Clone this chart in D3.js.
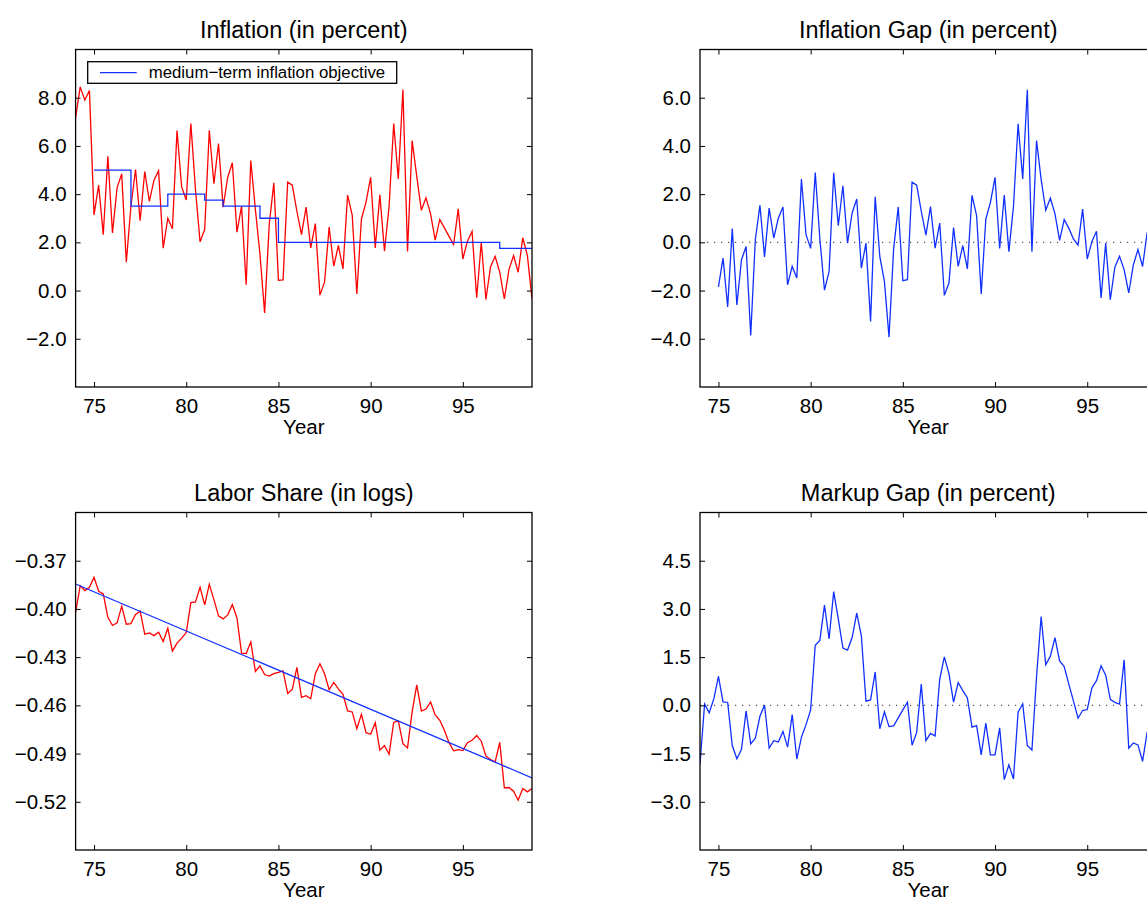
<!DOCTYPE html>
<html>
<head>
<meta charset="utf-8">
<script src="https://cdn.jsdelivr.net/npm/d3@7"></script>
<style>
  html, body { margin: 0; padding: 0; background: #fff; overflow: hidden; }
  svg { display: block; font-family: "Liberation Sans", Arial, Helvetica, sans-serif; }
</style>
</head>
<body>
<svg id="chart"></svg>
<script>
// Quarterly series, first value = 1974Q1 unless noted
const startYear = 74;
const xTicks = [75, 80, 85, 90, 95];

const inflation = [7.17, 8.45, 7.9, 8.3, 3.14, 4.37, 2.32, 5.57, 2.39, 4.27,
    4.84, 1.18, 3.5, 5.02, 2.9, 4.94, 3.7, 4.58, 4.97, 1.76,
    3.0, 2.56, 6.64, 4.3, 3.76, 6.93, 4.19, 2.02, 2.53, 6.65,
    4.43, 6.1, 3.46, 4.7, 5.3, 2.42, 3.5, 0.24, 5.39, 3.36,
    1.49, -0.93, 2.74, 4.47, 0.43, 0.44, 4.5, 4.37, 3.29, 2.32,
    3.46, 1.77, 2.78, -0.19, 0.35, 2.63, 1.01, 1.87, 0.9, 3.96,
    3.13, -0.14, 2.97, 3.67, 4.7, 1.77, 3.97, 1.63, 3.5, 6.93,
    4.63, 8.34, 1.62, 6.22, 4.74, 3.33, 3.85, 3.18, 2.09, 2.95,
    2.6, 2.25, 1.91, 3.39, 1.31, 2.05, 2.46, -0.3, 2.0, -0.37,
    0.98, 1.42, 0.76, -0.35, 0.87, 1.45, 0.76, 2.19, 1.45, -0.35];

// medium-term objective, step breakpoints
const objectiveYears = [75, 77, 79, 81, 82, 84, 85, 97, 98.75];
const objectiveValues = [5.0, 3.5, 4.0, 3.75, 3.5, 3.0, 2.0, 1.75, 1.75];

// inflation gap starts 1975Q1
const gapStart = 75;
const inflationGap = [-1.85, -0.65, -2.68, 0.57, -2.6, -0.72, -0.17, -3.86, 0.11, 1.54,
    -0.61, 1.42, 0.18, 1.01, 1.47, -1.76, -1.0, -1.48, 2.63, 0.32,
    -0.25, 2.9, 0.14, -1.98, -1.2, 2.89, 0.69, 2.35, -0.03, 1.22,
    1.8, -1.07, -0.03, -3.28, 1.89, -0.58, -1.62, -3.93, -0.28, 1.47,
    -1.59, -1.55, 2.5, 2.37, 1.29, 0.3, 1.48, -0.24, 0.8, -2.2,
    -1.69, 0.61, -1.0, -0.14, -1.1, 1.95, 1.11, -2.14, 0.97, 1.66,
    2.7, -0.25, 1.96, -0.39, 1.49, 4.92, 2.63, 6.33, -0.39, 4.22,
    2.6, 1.33, 1.84, 1.18, 0.08, 0.94, 0.59, 0.14, -0.11, 1.38,
    -0.69, 0.03, 0.46, -2.31, -0.03, -2.38, -1.02, -0.58, -1.13, -2.1,
    -0.93, -0.3, -1.0, 0.41, -0.3, -2.1];

const laborShare = [-0.4021, -0.3855, -0.3886, -0.3866, -0.3803, -0.389, -0.3907, -0.4052, -0.4103, -0.4087,
    -0.3983, -0.4095, -0.4091, -0.4035, -0.4014, -0.4157, -0.4149, -0.4166, -0.4145, -0.4203,
    -0.412, -0.4263, -0.4213, -0.4182, -0.4147, -0.3961, -0.3957, -0.3866, -0.3975, -0.3847,
    -0.3942, -0.4043, -0.4062, -0.4037, -0.3973, -0.4056, -0.4275, -0.4277, -0.4205, -0.4389,
    -0.4354, -0.4408, -0.4418, -0.4403, -0.4395, -0.4385, -0.4526, -0.4501, -0.4364, -0.455,
    -0.454, -0.4559, -0.4403, -0.4341, -0.4403, -0.4503, -0.4457, -0.4497, -0.4532, -0.4635,
    -0.4641, -0.4745, -0.4656, -0.477, -0.478, -0.4708, -0.4879, -0.485, -0.4904, -0.4706,
    -0.4697, -0.4838, -0.4865, -0.4641, -0.4472, -0.4635, -0.4623, -0.4579, -0.466, -0.4693,
    -0.4755, -0.4832, -0.4883, -0.4875, -0.4881, -0.4832, -0.4817, -0.4788, -0.4823, -0.4915,
    -0.4937, -0.4952, -0.483, -0.5113, -0.5111, -0.5134, -0.519, -0.5117, -0.5138, -0.5117];

const trendYears = [74, 98.75];
const trendValues = [-0.3845, -0.5051];

const markupGap = [-1.82, 0.04, -0.23, 0.2, 0.9, 0.11, 0.09, -1.25, -1.66, -1.37,
    -0.17, -1.2, -1.02, -0.34, 0.01, -1.33, -1.1, -1.14, -0.81, -1.3,
    -0.29, -1.67, -0.99, -0.6, -0.14, 1.87, 2.02, 3.12, 2.07, 3.54,
    2.68, 1.78, 1.72, 2.11, 2.87, 2.16, 0.13, 0.17, 1.04, -0.73,
    -0.2, -0.66, -0.64, -0.39, -0.14, 0.1, -1.24, -0.84, 0.66, -1.1,
    -0.87, -0.95, 0.82, 1.51, 0.99, 0.1, 0.71, 0.46, 0.23, -0.68,
    -0.63, -1.54, -0.55, -1.54, -1.54, -0.7, -2.31, -1.85, -2.29, -0.21,
    0.05, -1.25, -1.39, 0.89, 2.76, 1.26, 1.53, 2.11, 1.38, 1.21,
    0.66, 0.14, -0.4, -0.16, -0.13, 0.54, 0.77, 1.23, 0.94, 0.19,
    0.09, 0.04, 1.42, -1.33, -1.17, -1.23, -1.74, -0.83];

const titles = ["Inflation (in percent)", "Inflation Gap (in percent)",
    "Labor Share (in logs)", "Markup Gap (in percent)"];
const yTicksInfl = [-2, 0, 2, 4, 6, 8];
const yTicksGap = [-4, -2, 0, 2, 4, 6];
const yTicksLabor = [-0.52, -0.49, -0.46, -0.43, -0.40, -0.37];
const yTicksMarkup = [-3, -1.5, 0, 1.5, 3, 4.5];
const legendLabel = "medium\u2212term inflation objective";

(function () {
    const W = 1147, H = 901;
    const RED = "#ff0000", BLUE = "#1030ff";
    const svg = d3.select("#chart").attr("width", W).attr("height", H);

    const toSeries = (vals, y0) => vals.map((v, i) => ({ t: y0 + i / 4, v: v }));
    const zipped = (ts, vs) => ts.map((t, i) => ({ t: t, v: vs[i] }));

    // panel boxes (px) and axis setup
    const panels = [
        { x0: 75.6, y0: 49.5, yDom: [-4, 10], ticks: yTicksInfl, fmt: ".1f", title: titles[0] },
        { x0: 700, y0: 49.5, yDom: [-6, 8], ticks: yTicksGap, fmt: ".1f", title: titles[1] },
        { x0: 75.6, y0: 512.5, yDom: [-0.55, -0.34], ticks: yTicksLabor, fmt: ".2f", title: titles[2] },
        { x0: 700, y0: 512.5, yDom: [-4.5, 6], ticks: yTicksMarkup, fmt: ".1f", title: titles[3] }
    ];
    const PW = 456.4, PH = 337.5;

    panels.forEach((p, k) => {
        const g = svg.append("g").attr("transform", `translate(${p.x0},${p.y0})`);
        p.g = g;
        p.x = d3.scaleLinear().domain([74, 98.75]).range([0, PW]);
        p.y = d3.scaleLinear().domain(p.yDom).range([PH, 0]);

        const clipId = "clip" + k;
        g.append("clipPath").attr("id", clipId)
            .append("rect").attr("width", PW).attr("height", PH);
        p.plot = g.append("g").attr("clip-path", `url(#${clipId})`);

        // inward ticks on all four sides
        g.append("g").attr("transform", `translate(0,${PH})`)
            .call(d3.axisBottom(p.x).tickValues(xTicks).tickFormat(d3.format("d"))
                .tickSizeInner(-5).tickSizeOuter(0).tickPadding(11.5));
        g.append("g")
            .call(d3.axisTop(p.x).tickValues(xTicks).tickFormat("")
                .tickSizeInner(-5).tickSizeOuter(0));
        g.append("g")
            .call(d3.axisLeft(p.y).tickValues(p.ticks).tickFormat(d3.format(p.fmt))
                .tickSizeInner(-5).tickSizeOuter(0).tickPadding(9));
        g.append("g").attr("transform", `translate(${PW},0)`)
            .call(d3.axisRight(p.y).tickValues(p.ticks).tickFormat("")
                .tickSizeInner(-5).tickSizeOuter(0));

        g.selectAll(".domain").remove();
        g.selectAll(".tick line").attr("stroke", "#000").attr("stroke-width", 1);
        g.selectAll(".tick text").attr("fill", "#000").attr("font-size", 20.5)
            .attr("font-family", "Liberation Sans, Arial, sans-serif");

        g.append("rect").attr("width", PW).attr("height", PH)
            .attr("fill", "none").attr("stroke", "#000").attr("stroke-width", 1.3);

        g.append("text")
            .attr("x", PW / 2).attr("y", -12)
            .attr("text-anchor", "middle").attr("font-size", 23.5)
            .text(p.title);
        g.append("text")
            .attr("x", PW / 2).attr("y", PH + 47)
            .attr("text-anchor", "middle").attr("font-size", 20.5)
            .text("Year");
    });

    function drawLine(p, data, color, curve) {
        const line = d3.line().x(d => p.x(d.t)).y(d => p.y(d.v)).curve(curve || d3.curveLinear);
        p.plot.append("path").datum(data)
            .attr("d", line)
            .attr("fill", "none").attr("stroke", color)
            .attr("stroke-width", 1.3).attr("stroke-linejoin", "miter");
    }

    function zeroLine(p) {
        p.plot.append("line")
            .attr("x1", p.x(74)).attr("x2", p.x(98.75))
            .attr("y1", p.y(0)).attr("y2", p.y(0))
            .attr("stroke", "#555").attr("stroke-width", 1.2)
            .attr("stroke-dasharray", "1.2 5.8");
    }

    // Inflation + objective
    const p1 = panels[0];
    drawLine(p1, toSeries(inflation, startYear), RED);
    drawLine(p1, zipped(objectiveYears, objectiveValues), BLUE, d3.curveStepAfter);

    // legend box top-left
    const lg = p1.g.append("g").attr("transform", "translate(12.1,12.2)");
    lg.append("rect").attr("width", 309).attr("height", 21.6)
        .attr("fill", "#fff").attr("stroke", "#000").attr("stroke-width", 1.3);
    lg.append("line").attr("x1", 12.3).attr("x2", 49).attr("y1", 11).attr("y2", 11)
        .attr("stroke", BLUE).attr("stroke-width", 1.3);
    lg.append("text").attr("x", 61).attr("y", 16.8)
        .attr("font-size", 16.8).text(legendLabel);

    // Inflation gap
    const p2 = panels[1];
    zeroLine(p2);
    drawLine(p2, toSeries(inflationGap, gapStart), BLUE);

    // Labor share + trend
    const p3 = panels[2];
    drawLine(p3, toSeries(laborShare, startYear), RED);
    drawLine(p3, zipped(trendYears, trendValues), BLUE);

    // Markup gap
    const p4 = panels[3];
    zeroLine(p4);
    drawLine(p4, toSeries(markupGap, startYear), BLUE);
})();
</script>
</body>
</html>
